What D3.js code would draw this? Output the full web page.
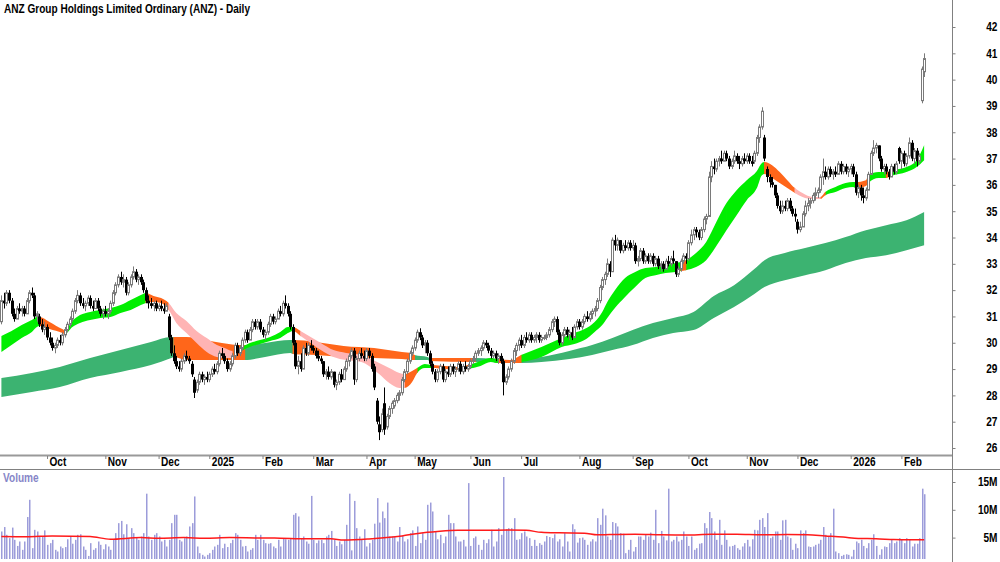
<!DOCTYPE html>
<html>
<head>
<meta charset="utf-8">
<script src="https://cdn.jsdelivr.net/npm/d3@7"></script>
<style>
  body { margin: 0; background: #fff; }
  svg { display: block; font-family: "Liberation Sans", Arial, sans-serif; }
</style>
</head>
<body>
<div id="chart"></div>
<script>
// ---- calendar (ASX trading days) ----
var firstDay = "2024-09-05", lastDay = "2026-02-13";
var holidays = ["2024-12-25","2024-12-26","2025-01-01","2025-01-27","2025-04-18","2025-04-21",
                "2025-04-25","2025-06-09","2025-12-25","2025-12-26","2026-01-01","2026-01-26"];
var monthLabels = ["Oct","Nov","Dec","2025","Feb","Mar","Apr","May","Jun","Jul","Aug","Sep","Oct","Nov","Dec","2026","Feb"];
var priceTicks = [26,27,28,29,30,31,32,33,34,35,36,37,38,39,40,41,42];
var volTicks = [5,10,15];

// ---- daily prices ----
var open = [
30.8,31.6,31.5,31.9,31.6,31.1,30.9,31.3,31.2,31.3, 31.1,31.6,31.9,31.8,31.0,31.0,30.7,30.5,30.6,30.2,
30.0,29.8,29.9,30.1,30.0,30.3,30.5,30.7,30.9,31.2, 31.6,31.8,31.5,31.4,31.5,31.7,31.4,31.3,31.6,31.3,
31.1,31.2,31.1,31.2,31.5,31.9,32.2,32.5,32.3,32.4, 31.9,32.2,32.5,32.7,32.4,32.5,32.3,32.0,31.6,31.5,
31.4,31.5,31.3,31.4,31.3,31.2,31.0,30.2,29.6,29.3, 29.1,29.0,29.3,29.5,29.4,29.2,28.6,28.2,28.5,28.8,
28.6,28.7,28.6,28.8,29.0,28.9,29.2,29.6,29.5,29.3, 29.0,29.2,29.5,29.9,29.6,29.8,30.1,30.4,30.1,30.5,
30.8,30.6,30.8,30.5,30.3,30.4,30.7,31.0,30.8,30.9, 31.2,31.1,31.5,31.4,31.1,30.6,30.0,29.1,29.3,29.0,
29.8,29.6,29.9,29.8,29.7,29.5,29.4,29.3,28.8,28.9, 28.7,28.9,28.4,28.5,28.8,28.6,29.0,29.3,29.5,29.7,
28.6,29.4,29.6,29.5,29.4,29.7,29.5,29.1,27.8,26.9, 26.7,27.7,26.8,27.2,27.5,27.6,27.8,28.0,28.1,28.6,
28.9,29.3,29.6,29.8,30.1,30.4,30.2,29.9,30.0,29.6, 29.2,28.9,28.6,28.9,29.1,28.6,28.9,28.8,29.1,28.9,
29.0,29.2,28.9,29.1,29.0,29.1,29.3,29.4,29.6,29.7, 29.8,30.0,29.9,29.7,29.5,29.6,29.4,29.5,29.3,28.5,
28.7,29.0,29.3,29.7,29.9,30.1,29.9,30.2,30.1,30.3, 30.1,30.2,30.3,30.1,30.2,30.2,30.3,30.5,30.8,30.9,
30.4,30.0,30.3,30.5,30.3,30.4,30.2,30.6,30.8,30.6, 30.8,31.0,30.9,31.1,31.2,31.3,31.6,32.1,32.4,32.6,
33.0,32.7,33.9,33.7,33.9,33.5,33.7,33.6,33.8,33.6, 33.7,33.1,33.2,33.5,33.1,33.3,33.1,33.3,33.0,33.2,
32.9,33.0,32.8,33.1,33.0,33.2,33.1,32.6,32.8,33.1, 33.3,33.2,33.8,34.1,34.3,34.2,34.0,34.3,34.7,34.8,
36.3,36.7,36.6,36.9,37.0,36.9,37.2,37.0,36.7,36.9, 37.1,36.9,36.8,37.0,36.9,37.1,36.9,36.9,37.2,37.8,
38.2,37.8,36.6,36.3,36.1,36.0,35.6,35.2,35.0,35.2, 35.1,35.4,35.1,34.9,34.6,34.3,34.4,34.9,35.2,35.3,
35.4,35.6,35.7,35.8,36.3,36.5,36.3,36.6,36.4,36.5, 36.4,36.8,36.5,36.7,36.5,36.6,36.7,36.4,35.7,35.9,
35.6,35.5,35.8,36.4,37.2,37.4,37.5,37.0,36.6,36.7, 36.5,36.3,36.7,36.5,37.4,36.9,37.2,36.8,37.1,37.6,
37.0,37.3,36.9,39.2,40.3];
var high = [
31.8,31.9,32.0,32.0,31.7,31.3,31.4,31.5,31.4,31.4, 31.7,32.0,32.1,31.9,31.2,31.1,30.9,30.8,30.7,30.4,
30.2,30.0,30.2,30.3,30.4,30.6,30.8,31.0,31.3,31.7, 32.0,31.9,31.7,31.6,31.8,31.8,31.6,31.7,31.7,31.4,
31.3,31.4,31.3,31.6,32.0,32.3,32.6,32.7,32.6,32.5, 32.3,32.6,32.9,32.8,32.6,32.6,32.4,32.1,31.8,31.7,
31.6,31.6,31.5,31.6,31.5,31.5,31.1,30.3,29.9,29.5, 29.3,29.4,29.6,29.7,29.5,29.3,28.7,28.6,28.9,28.9,
28.8,28.9,28.9,29.1,29.2,29.3,29.7,29.8,29.6,29.4, 29.3,29.6,30.0,30.0,29.9,30.2,30.5,30.5,30.6,30.9,
30.9,30.9,30.9,30.6,30.5,30.8,31.1,31.1,31.0,31.3, 31.4,31.6,31.8,31.5,31.2,30.7,30.1,29.5,29.6,29.9,
30.0,30.0,30.1,29.9,29.8,29.7,29.5,29.3,29.0,29.1, 29.0,28.9,28.6,28.9,29.0,29.1,29.4,29.6,29.8,29.8,
29.5,29.7,29.8,29.7,29.8,29.8,29.6,29.2,27.9,27.2, 27.5,28.3,27.3,27.6,27.8,27.9,28.1,28.2,28.7,29.0,
29.4,29.7,29.9,30.2,30.5,30.55,30.3,30.1,30.1,29.7, 29.3,29.0,29.0,29.2,29.2,29.0,29.1,29.2,29.2,29.1,
29.3,29.3,29.2,29.3,29.2,29.4,29.5,29.7,29.8,29.9, 30.1,30.1,30.0,29.8,29.7,29.7,29.6,29.6,29.4,28.8,
29.1,29.4,29.8,30.0,30.2,30.3,30.3,30.4,30.4,30.4, 30.3,30.4,30.4,30.3,30.3,30.4,30.6,30.9,31.0,31.0,
30.5,30.4,30.6,30.6,30.5,30.6,30.7,30.9,30.9,30.9, 31.1,31.2,31.2,31.3,31.4,31.7,32.2,32.5,32.7,33.2,
33.1,34.0,34.1,34.0,33.9,33.8,33.9,33.9,33.9,33.9, 33.8,33.3,33.6,33.6,33.4,33.4,33.4,33.4,33.3,33.3,
33.1,33.1,33.2,33.3,33.3,33.5,33.1,32.9,33.2,33.4, 33.4,33.9,34.3,34.4,34.4,34.3,34.4,34.8,34.9,36.5,
36.9,37.0,37.0,37.1,37.3,37.3,37.3,37.1,37.0,37.3, 37.2,37.1,37.1,37.2,37.2,37.2,37.1,37.3,37.9,38.3,
38.95,37.9,36.7,36.4,36.3,36.0,35.7,35.4,35.4,35.4, 35.5,35.5,35.2,35.1,34.7,34.6,35.0,35.4,35.5,35.5,
35.7,35.9,35.9,36.4,37.0,36.7,36.7,36.7,36.6,36.7, 36.9,36.9,36.8,36.8,36.7,36.8,36.8,36.5,36.0,36.0,
35.9,35.9,36.5,37.3,37.7,37.6,37.5,37.1,36.8,36.8, 36.6,36.8,36.8,36.9,37.45,37.3,37.3,37.2,37.8,37.7,
37.4,37.4,37.2,40.5,41.0];
var low = [
30.7,31.3,31.4,31.5,31.0,30.8,30.9,31.1,31.0,31.0, 31.1,31.5,31.7,30.9,30.8,30.6,30.4,30.3,30.1,29.9,
29.7,29.6,29.8,29.9,29.9,30.2,30.4,30.6,30.8,31.1, 31.5,31.4,31.3,31.2,31.4,31.3,31.2,31.3,31.2,31.0,
30.9,31.0,30.9,31.1,31.4,31.8,32.1,32.2,32.1,31.8, 31.8,32.1,32.4,32.3,32.2,32.2,31.9,31.5,31.3,31.3,
31.2,31.2,31.2,31.2,31.1,31.2,30.1,29.5,29.2,29.0, 28.9,28.9,29.2,29.3,29.2,28.7,27.9,28.1,28.4,28.5,
28.4,28.5,28.5,28.7,28.8,28.8,29.1,29.4,29.2,28.9, 28.9,29.1,29.4,29.5,29.5,29.7,30.0,30.0,30.1,30.4,
30.5,30.5,30.4,30.2,30.1,30.3,30.6,30.7,30.7,30.9, 31.0,31.0,31.3,31.0,30.5,29.9,29.0,28.8,28.9,29.0,
29.5,29.5,29.7,29.6,29.4,29.3,29.2,28.7,28.6,28.6, 28.6,28.3,28.2,28.4,28.5,28.6,28.9,29.1,29.4,28.4,
28.5,29.3,29.4,29.3,29.3,29.4,28.9,28.2,26.9,26.3, 26.6,26.5,26.7,27.1,27.3,27.5,27.7,27.8,28.0,28.5,
28.8,29.2,29.5,29.7,30.0,30.1,29.8,29.6,29.5,29.1, 28.8,28.5,28.5,28.8,28.5,28.5,28.7,28.7,28.8,28.7,
28.9,28.8,28.8,28.9,28.9,29.0,29.2,29.3,29.5,29.5, 29.7,29.8,29.6,29.4,29.4,29.3,29.2,29.2,28.0,28.4,
28.6,28.9,29.2,29.5,29.7,29.8,29.8,30.0,30.0,30.0, 30.0,30.0,30.0,30.0,30.1,30.1,30.2,30.4,30.6,30.3,
29.9,29.9,30.2,30.2,30.1,30.1,30.2,30.5,30.5,30.5, 30.7,30.8,30.8,30.9,31.0,31.2,31.5,32.0,32.2,32.5,
32.5,32.7,33.5,33.5,33.4,33.4,33.5,33.5,33.5,33.5, 33.0,32.9,33.1,33.0,33.0,33.0,33.0,32.9,32.9,32.8,
32.7,32.7,32.8,32.9,32.9,33.0,32.5,32.5,32.7,33.0, 33.0,33.1,33.7,33.9,34.0,33.9,33.9,34.2,34.5,34.8,
36.1,36.4,36.5,36.7,36.8,36.9,36.9,36.6,36.6,36.8, 36.8,36.6,36.7,36.8,36.8,36.8,36.7,36.8,37.1,37.6,
38.1,36.9,36.1,35.9,35.9,35.5,35.1,34.9,34.9,35.0, 35.0,35.0,34.8,34.6,34.15,34.2,34.4,34.8,35.0,35.1,
35.3,35.4,35.5,35.7,36.0,36.2,36.2,36.3,36.2,36.3, 36.4,36.4,36.4,36.4,36.3,36.4,36.3,35.6,35.5,35.4,
35.3,35.4,35.8,36.4,37.1,37.2,36.9,36.5,36.4,36.4, 36.2,36.3,36.4,36.4,36.8,36.6,36.7,36.7,37.0,36.9,
36.8,36.7,36.8,39.1,40.1];
var close = [
31.6,31.5,31.9,31.6,31.1,30.9,31.3,31.2,31.3,31.1, 31.6,31.9,31.8,31.0,31.1,30.7,30.5,30.6,30.2,30.0,
29.8,29.9,30.1,30.0,30.3,30.5,30.7,30.9,31.2,31.6, 31.8,31.5,31.4,31.5,31.7,31.4,31.3,31.6,31.3,31.1,
31.2,31.1,31.2,31.5,31.9,32.2,32.5,32.3,32.4,31.9, 32.2,32.5,32.7,32.4,32.5,32.3,32.0,31.6,31.5,31.4,
31.5,31.3,31.4,31.3,31.2,31.4,30.2,29.6,29.3,29.1, 29.0,29.3,29.5,29.4,29.3,28.8,28.1,28.5,28.8,28.6,
28.7,28.6,28.8,29.0,28.9,29.2,29.6,29.5,29.3,29.0, 29.2,29.5,29.9,29.6,29.8,30.1,30.4,30.1,30.5,30.8,
30.6,30.8,30.5,30.3,30.4,30.7,31.0,30.8,30.9,31.2, 31.1,31.5,31.4,31.1,30.6,30.0,29.1,29.3,29.0,29.8,
29.6,29.9,29.8,29.7,29.5,29.4,29.3,28.8,28.9,28.7, 28.9,28.4,28.5,28.8,28.6,29.0,29.3,29.5,29.7,28.6,
29.4,29.6,29.5,29.4,29.7,29.5,29.0,28.3,27.0,26.6, 27.3,26.7,27.2,27.5,27.7,27.8,28.0,28.1,28.6,28.9,
29.3,29.6,29.8,30.1,30.4,30.2,29.9,30.0,29.6,29.2, 28.9,28.6,28.9,29.1,28.6,28.9,28.8,29.1,28.9,29.0,
29.2,28.9,29.1,29.0,29.1,29.3,29.4,29.6,29.7,29.8, 30.0,29.9,29.7,29.5,29.6,29.4,29.5,29.3,28.5,28.7,
29.0,29.3,29.7,29.9,30.1,29.9,30.2,30.1,30.3,30.1, 30.2,30.3,30.1,30.2,30.2,30.3,30.5,30.8,30.9,30.4,
30.0,30.3,30.5,30.3,30.4,30.2,30.6,30.8,30.6,30.8, 31.0,30.9,31.1,31.2,31.3,31.6,32.1,32.4,32.6,33.0,
32.7,33.9,33.7,33.9,33.5,33.7,33.6,33.8,33.6,33.7, 33.1,33.2,33.5,33.1,33.3,33.1,33.3,33.0,33.2,32.9,
33.0,32.8,33.1,33.0,33.2,33.1,32.6,32.8,33.1,33.3, 33.2,33.8,34.1,34.3,34.2,34.0,34.3,34.7,34.8,36.3,
36.7,36.6,36.9,37.0,36.9,37.2,37.0,36.7,36.9,37.1, 36.9,36.8,37.0,36.9,37.1,36.9,36.8,37.2,37.8,38.2,
38.8,37.0,36.3,36.1,36.0,35.6,35.2,35.0,35.2,35.1, 35.4,35.1,34.9,34.8,34.3,34.4,34.9,35.2,35.3,35.4,
35.6,35.7,35.8,36.3,36.5,36.3,36.6,36.4,36.5,36.4, 36.8,36.5,36.7,36.5,36.6,36.7,36.4,35.7,35.9,35.6,
35.5,35.8,36.4,37.2,37.4,37.5,37.0,36.6,36.7,36.5, 36.3,36.7,36.5,36.8,36.9,37.2,36.8,37.1,37.6,37.0,
37.3,36.9,37.1,40.4,40.8];

// ---- daily volume (millions) ----
var volume = [
6.1,6.9,5.5,4.9,6.8,4.6,3.5,4.3,2.8,4.3, 8.7,11.8,3.1,6.4,6.1,5.2,5.2,6.3,3.7,4.0,
4.6,2.8,2.5,3.4,3.1,3.3,4.7,5.2,3.9,4.6, 5.5,5.6,3.4,2.8,1.7,4.0,2.8,3.1,4.3,3.7,
2.9,3.8,3.4,2.8,4.6,5.8,7.6,8.0,5.6,7.4, 4.9,6.7,5.8,5.0,4.6,5.2,5.8,12.9,5.2,4.6,
5.5,5.8,5.2,4.3,4.6,3.4,4.6,7.6,9.1,9.1, 4.6,4.3,4.9,5.2,7.0,7.6,12.4,3.4,2.2,1.9,
1.6,1.9,2.2,2.8,3.4,3.7,5.5,3.1,3.9,3.3, 4.0,4.6,5.8,5.5,4.6,3.4,3.5,2.5,2.8,3.1,
5.5,4.6,5.5,4.6,4.0,3.9,4.0,3.4,3.1,4.6, 3.4,4.9,4.7,4.6,4.9,9.1,9.4,8.8,4.9,5.2,
4.3,3.9,12.5,4.6,4.0,4.5,4.6,4.0,5.2,5.5, 6.2,4.6,3.5,4.3,3.8,4.6,7.3,12.9,2.7,11.6,
6.7,5.2,4.6,6.5,3.4,4.0,4.6,7.5,12.1,7.7, 9.7,8.5,11.3,5.2,5.2,5.1,4.3,6.9,5.3,4.3,
4.7,5.8,6.3,3.5,7.0,4.0,5.8,4.6,10.9,11.3, 9.7,6.1,4.7,5.5,4.0,5.2,9.1,7.6,7.6,5.2,
4.3,4.3,4.6,3.4,14.8,3.5,4.9,5.2,3.7,2.8, 4.6,4.0,4.7,6.4,3.4,4.3,6.7,5.5,15.9,6.5,
6.7,6.7,8.5,4.6,4.7,5.8,6.1,5.2,4.9,3.5, 4.6,3.5,4.0,3.7,4.3,5.3,5.1,4.9,5.6,4.3,
4.7,3.4,5.8,4.3,2.5,7.4,6.5,4.1,4.9,5.0, 4.6,3.7,4.3,4.7,4.3,8.5,7.3,10.2,9.0,5.2,
4.6,7.8,7.6,7.0,5.8,5.7,2.2,2.8,4.6,2.5, 3.3,5.2,5.2,4.6,5.5,5.2,5.9,4.6,10.0,4.0,
6.2,5.2,4.5,13.8,4.3,4.6,5.2,4.3,4.6,6.1, 5.2,3.5,5.2,2.8,3.1,3.9,4.0,7.6,6.7,9.6,
8.5,6.1,4.6,8.2,3.7,6.3,4.6,3.4,3.5,3.7, 3.1,2.8,3.4,4.0,4.6,3.4,4.7,6.4,6.3,8.2,
8.5,6.9,9.4,4.9,5.2,6.1,6.1,4.6,8.1,8.2, 5.2,4.9,2.8,3.9,3.1,6.3,5.8,6.3,3.4,3.3,
3.4,3.7,3.9,4.6,6.9,5.5,5.2,5.8,10.2,2.5, 2.2,1.7,1.9,2.0,1.9,1.6,2.8,4.3,4.0,4.6,
3.5,3.1,4.0,4.6,5.6,3.5,1.9,2.9,3.4,3.3, 4.0,4.6,4.0,4.3,4.9,4.6,4.0,4.9,4.6,3.4,
3.9,3.9,4.9,13.8,12.8];
var volMaDays = [0,10,20,35,43,55,62,72,80,90,100,110,120,130,135,145,152,158,165,172,
                 180,190,200,207,213,220,230,235,240,250,260,270,280,290,300,310,318,325,332,338,345,352,358,364];
var volMa = [5.2,5.15,5.3,5.2,4.7,5.0,4.9,5.0,4.9,5.0,4.95,4.9,4.8,4.8,4.55,4.75,5.0,5.3,5.8,6.1,
             6.3,6.3,6.35,6.3,5.95,5.85,5.8,5.5,5.55,5.6,5.5,5.45,5.6,5.6,5.5,5.55,5.5,5.3,5.1,4.85,4.8,4.65,4.6,4.6];

// ---- short-term moving average ribbon (read at sample days) ----
var shortDays = [0,4,8,12,14,15,19,24,25,28, 31,35,39,43,47,51,55,57,60,63, 66,69,73,77,81,85,88,91,94,98,
  102,106,110,113,115,118,122,126,131,136, 142,145,149,153,157,159,162,164,167,170, 175,181,184,189,193,196,201,205,213,221,
  226,230,234,237,239,242,246,250,254,258, 262,266,268,270,274,278,282,286,290,294, 298,300,301,304,307,310,313,316,320,323,
  325,329,333,336,337,341,342,346,349,351, 354,357,361,364];
var shortHi = [30.26,30.45,30.67,30.86,30.98,30.98,30.79,30.52,30.48,30.83, 31.05,31.17,31.24,31.32,31.43,31.62,31.81,31.89,31.78,31.70,
  31.51,31.13,30.83,30.45,30.18,29.91,29.80,29.69,29.80,29.99, 30.10,30.22,30.41,30.60,30.60,30.45,30.22,29.99,29.72,29.61,
  29.53,29.42,29.23,29.04,28.85,28.81,28.93,29.04,29.19,29.15, 29.12,29.08,29.15,29.31,29.42,29.38,29.34,29.53,29.84,30.18,
  30.37,30.52,30.79,31.17,31.55,32.00,32.46,32.69,32.84,32.88, 32.95,33.03,33.07,33.14,33.41,33.83,34.59,35.31,35.80,36.18,
  36.53,36.83,36.87,36.75,36.49,36.18,35.88,35.69,35.54,35.54, 35.73,35.92,36.07,36.11,36.11,36.18,36.37,36.49,36.49,36.53,
  36.60,36.68,36.94,37.52];
var shortLo = [29.65,29.91,30.18,30.41,30.60,30.64,30.52,30.37,30.33,30.60, 30.75,30.86,30.94,30.98,31.13,31.24,31.43,31.51,31.55,31.51,
  31.24,30.75,30.37,29.99,29.65,29.46,29.42,29.42,29.65,29.84, 29.95,30.07,30.18,30.37,30.45,30.26,29.99,29.72,29.46,29.34,
  29.27,29.12,28.81,28.47,28.28,28.28,28.51,28.85,29.04,29.04, 29.00,28.96,29.00,29.12,29.27,29.23,29.23,29.27,29.46,29.84,
  29.95,30.10,30.41,30.67,30.94,31.32,31.74,32.12,32.46,32.57, 32.65,32.69,32.73,32.76,32.88,33.14,33.68,34.28,34.85,35.42,
  35.88,36.37,36.41,36.26,36.07,35.88,35.69,35.54,35.46,35.46, 35.61,35.73,35.88,35.92,35.88,35.96,36.07,36.26,36.26,36.34,
  36.41,36.49,36.68,36.94];
var shortState = ["g","g","g","g","g","o","o","o","g","g", "g","g","g","g","g","g","g","o","o","o",
  "p","p","p","p","p","p","p","o","g","g", "g","g","g","g","o","p","p","p","p","p",
  "p","p","p","p","p","o","o","g","g","o", "o","o","g","g","g","o","o","g","g","g",
  "g","g","g","g","g","g","g","g","g","g", "g","g","o","g","g","g","g","g","g","g",
  "g","g","o","o","o","o","p","p","p","o", "g","g","g","g","o","o","g","g","o","g",
  "g","g","g","g"];

// ---- long-term moving average ribbon ----
var longDays = [0,12,23,35,47,59,67,68,73,80, 87,95,96,104,114,115,124,135,147,158, 162,163,168,169,186,187,194,195,204,205,
  213,224,233,241,249,257,265,273,281,289, 297,301,309,317,325,333,341,349,357,364];
var longHi = [28.66,28.85,29.08,29.42,29.72,30.03,30.22,30.22,30.22,30.10, 29.99,29.91,29.91,29.99,30.10,30.10,30.03,29.88,29.80,29.65,
  29.61,29.53,29.46,29.42,29.42,29.42,29.38,29.34,29.34,29.38, 29.46,29.69,29.91,30.18,30.48,30.75,30.94,31.17,31.78,32.19,
  32.80,33.14,33.41,33.60,33.79,34.02,34.28,34.47,34.66,34.97];
var longLo = [27.94,28.13,28.32,28.66,28.89,29.15,29.42,29.46,29.34,29.34, 29.34,29.34,29.34,29.46,29.61,29.57,29.53,29.46,29.42,29.38,
  29.34,29.34,29.34,29.31,29.27,29.27,29.27,29.23,29.23,29.23, 29.27,29.38,29.53,29.72,29.91,30.18,30.37,30.48,30.94,31.36,
  31.85,32.12,32.38,32.57,32.76,33.03,33.22,33.33,33.52,33.71];
var longState = ["g","g","g","g","g","g","g","o","o","o", "o","o","g","g","g","o","o","o","o","o",
  "o","g","g","o","o","g","g","o","o","g", "g","g","g","g","g","g","g","g","g","g",
  "g","g","g","g","g","g","g","g","g","g"];

var shortColors = { g: "#00ee00", o: "#ff661a", p: "#ffb4b4" };
var longColors = { g: "#3cb371", o: "#ff661a" };

// ---- layout ----
var W = 1000, H = 562;
var axisX = 952, priceBottom = 455, dateBottom = 469, volBottom = 559;
var squeeze = 0.84;   // labels in the original are set in a narrow face

var parse = d3.utcParse("%Y-%m-%d"), fmt = d3.utcFormat("%Y-%m-%d");
var dates = d3.utcDay.range(parse(firstDay), d3.utcDay.offset(parse(lastDay), 1))
  .filter(function(d){ var w = d.getUTCDay(); return w !== 0 && w !== 6 && holidays.indexOf(fmt(d)) < 0; });

var x = d3.scalePoint().domain(d3.range(dates.length)).range([1.4, 924.2]);
var y = d3.scaleLinear().domain([26, 42]).range([448, 27]);
var yv = d3.scaleLinear().domain([0, 15]).range([565.4, 482]);
function cx(i){ return Math.round(x(i)); }

function narrow(sel){
  sel.each(function(){
    var w = this.getComputedTextLength();
    d3.select(this).attr("textLength", w * squeeze).attr("lengthAdjust", "spacingAndGlyphs");
  });
}

var svg = d3.select("#chart").append("svg").attr("width", W).attr("height", H);
var defs = svg.append("defs");
defs.append("clipPath").attr("id", "priceClip").append("rect").attr("x", 0).attr("y", 0).attr("width", axisX).attr("height", priceBottom);
defs.append("clipPath").attr("id", "volClip").append("rect").attr("x", 0).attr("y", dateBottom + 1).attr("width", axisX).attr("height", volBottom - dateBottom - 1);

var gp = svg.append("g").attr("clip-path", "url(#priceClip)");

function drawBand(days, hi, lo, states, colors, name){
  var area = d3.area().curve(d3.curveMonotoneX)
    .x(function(d, k){ return x(days[k]); })
    .y0(function(d, k){ return y(lo[k]); })
    .y1(function(d, k){ return y(hi[k]); });
  var pathD = area(days);
  Object.keys(colors).forEach(function(st){
    var id = name + "-" + st;
    var cp = defs.append("clipPath").attr("id", id);
    for (var k = 0; k < days.length - 1; k++) {
      if (states[k] === st) {
        cp.append("rect").attr("x", x(days[k]) - 0.4).attr("y", 0)
          .attr("width", x(days[k + 1]) - x(days[k]) + 0.8).attr("height", priceBottom);
      }
    }
    gp.append("g").attr("clip-path", "url(#" + id + ")")
      .append("path").attr("d", pathD).attr("fill", colors[st]);
  });
}
drawBand(longDays, longHi, longLo, longState, longColors, "long");
drawBand(shortDays, shortHi, shortLo, shortState, shortColors, "short");

// candles
var idx = d3.range(dates.length);
var candles = gp.append("g").selectAll("g").data(idx).enter().append("g");
candles.append("line")
  .attr("x1", function(i){ return cx(i) + 0.5; }).attr("x2", function(i){ return cx(i) + 0.5; })
  .attr("y1", function(i){ return y(high[i]); }).attr("y2", function(i){ return y(low[i]); })
  .attr("stroke", function(i){ return close[i] >= open[i] ? "#7a7a7a" : "#000"; })
  .attr("stroke-width", 1);
candles.append("rect")
  .attr("x", function(i){ return close[i] >= open[i] ? cx(i) - 0.5 : cx(i) - 1; })
  .attr("width", function(i){ return close[i] >= open[i] ? 2 : 3; })
  .attr("y", function(i){ return y(Math.max(open[i], close[i])); })
  .attr("height", function(i){ return Math.max(1, Math.abs(y(open[i]) - y(close[i]))); })
  .attr("fill", function(i){ return close[i] >= open[i] ? "#fff" : "#000"; })
  .attr("stroke", function(i){ return close[i] >= open[i] ? "#7a7a7a" : "none"; })
  .attr("stroke-width", 1);

// title
svg.append("text").attr("x", 4).attr("y", 13).attr("font-size", 12.5).attr("font-weight", "bold")
  .attr("fill", "#000").text("ANZ Group Holdings Limited Ordinary (ANZ) - Daily")
  .attr("textLength", 246).attr("lengthAdjust", "spacingAndGlyphs");

// frame lines
svg.append("line").attr("x1", 0).attr("x2", axisX).attr("y1", priceBottom + 0.5).attr("y2", priceBottom + 0.5)
  .attr("stroke", "#999").attr("stroke-width", 2);
svg.append("line").attr("x1", 0).attr("x2", W).attr("y1", dateBottom + 0.5).attr("y2", dateBottom + 0.5)
  .attr("stroke", "#808080");
svg.append("line").attr("x1", axisX + 0.5).attr("x2", axisX + 0.5).attr("y1", 0).attr("y2", H)
  .attr("stroke", "#808080");

// price axis
var pa = svg.append("g").attr("transform", "translate(" + (axisX + 0.5) + ",0)")
  .call(d3.axisRight(y).tickValues(priceTicks).tickSize(3).tickFormat(d3.format("d")));
pa.select(".domain").remove();
pa.selectAll("line").attr("stroke", "#808080");
pa.selectAll("text").attr("x", 45).attr("text-anchor", "end").attr("font-size", 12)
  .attr("font-weight", "bold").attr("font-family", "inherit").attr("fill", "#000").call(narrow);

// month axis
var monthIdx = [];
for (var i = 1; i < dates.length; i++) {
  if (dates[i].getUTCMonth() !== dates[i - 1].getUTCMonth()) monthIdx.push(i);
}
var ma = svg.append("g").attr("transform", "translate(0," + (priceBottom + 1) + ")")
  .call(d3.axisBottom(x).tickValues(monthIdx).tickSize(3)
    .tickFormat(function(d, k){ return monthLabels[k]; }));
ma.select(".domain").remove();
ma.selectAll("line").attr("stroke", "#808080");
ma.selectAll("text").attr("x", 2).attr("y", 10).attr("dy", 0).attr("text-anchor", "start")
  .attr("font-size", 12).attr("font-weight", "bold").attr("font-family", "inherit").attr("fill", "#000").call(narrow);

// volume panel
svg.append("text").attr("x", 3).attr("y", 482).attr("font-size", 12).attr("font-weight", "bold")
  .attr("fill", "#8686c8").text("Volume").call(narrow);
var gv = svg.append("g").attr("clip-path", "url(#volClip)");
gv.selectAll("rect").data(idx).enter().append("rect")
  .attr("x", function(i){ return cx(i); }).attr("width", 1.5)
  .attr("y", function(i){ return yv(volume[i]); })
  .attr("height", function(i){ return yv(0) - yv(volume[i]); })
  .attr("fill", "#9c9cda");
gv.append("path").datum(volMaDays)
  .attr("d", d3.line().curve(d3.curveMonotoneX)
    .x(function(d){ return x(d); }).y(function(d, k){ return yv(volMa[k]); }))
  .attr("fill", "none").attr("stroke", "#ff1a1a").attr("stroke-width", 1.5);

var va = svg.append("g").attr("transform", "translate(" + (axisX + 0.5) + ",0)")
  .call(d3.axisRight(yv).tickValues(volTicks).tickSize(3).tickFormat(function(d){ return d + "M"; }));
va.select(".domain").remove();
va.selectAll("line").attr("stroke", "#808080");
va.selectAll("text").attr("x", 45).attr("text-anchor", "end").attr("font-size", 12)
  .attr("font-weight", "bold").attr("font-family", "inherit").attr("fill", "#000").call(narrow);
</script>
</body>
</html>
